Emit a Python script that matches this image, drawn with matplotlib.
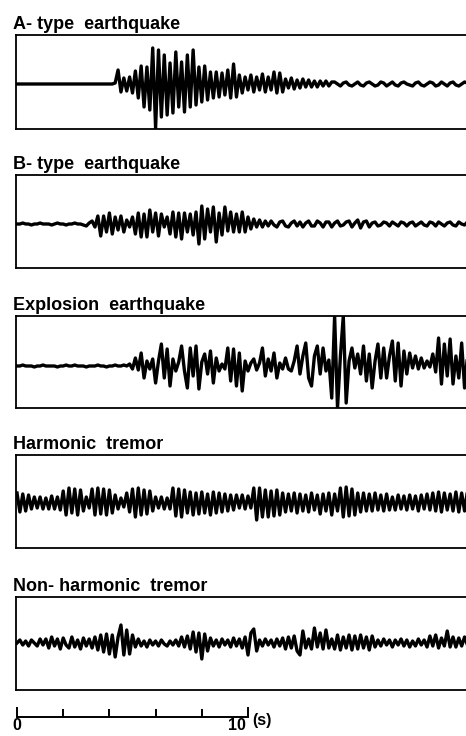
import numpy as np
import matplotlib
matplotlib.use("Agg")
import matplotlib.pyplot as plt

# seismogram samples, one every dt seconds (amplitude in arbitrary units, up = +)
dt = 0.125

titles = ["A- type  earthquake", "B- type  earthquake", "Explosion  earthquake",
          "Harmonic  tremor", "Non- harmonic  tremor"]

a_type = [0, 0, 0, 0, 0, 0, 0, 0, 0, 0, 0, 0, 0, 0, 0, 0, 0, 0, 0, 0,
          0, 0, 0, 0, 0, 0, 0, 0, 0, 0, 0, 0, 0, 0,
          1, 14, -8, 6, -7, 7, -9, 13, -14, 18, -23, 17, -26, 36, -44, 34, -33, 29, -31, 21,
          -29, 32, -23, 22, -28, 29, -23, 34, -21, 17, -18, 18, -16, 12, -14, 12, -13, 11, -11, 14,
          -14, 20, -13, 9, -9, 7, -6, 9, -8, 7, -6, 10, -8, 7, -6, 12, -9, 11, -8, 5,
          -4, 6, -5, 4, -4, 5, -3, 4, -3, 3, -3, 3, -2, 3, -2, 2,
          2, 0, -2, 1, 2, -1, -2, 0, 2, -1, -2, 1, 2, 0, -2, -1, 2, 1, -2, 0,
          2, -1, -2, 1, 2, 0, -1, -2, 1, 2, -1, -2, 0, 2, 1, -2, -1, 2, 0, -2,
          1, 2, -1, -2, 0, 2, 1]

b_type = [0, 0, 1, 0, 0, -1, 0, 0, 1, 0, 0, 0, -1, 0, 1, 0, 0, -1, 0, 0,
          1, 0, 0, -1, -2, 1,
          3, -3, 8, -12, 8, -8, 11, -10, 7, -6, 8, -8, 4, -3, 7, -10, 11, -13, 10, -13,
          14, -8, 11, -12, 10, -3, 7, -10, 12, -13, 11, -15, 11, -8, 10, -11, 12, -20, 18, -15,
          15, -8, 17, -18, 11, -11, 17, -7, 12, -8, 10, -8, 12, -8, 7, -5, 5, -3, 4, -3,
          3, -2,
          3, -1, -3, 2, 3, -2, -3, 1, 3, -2, 2, -3, 1, 3, -2, -2, 3, 1, -3, 2,
          2, -3, 1, 3, -2, -1, 2, 3, -3, 1, 4, -4, 2, 3, -3, 1, 2, -2, -1, 2,
          1, -2, 2, 0, -2, 2, 1, -2, 1, 2, -2, 0, 2, -1, -2, 2, 1, -2, 2, 0,
          -2, 1, 2, -1, -2, 2, 0, -1, 2]

explosion = [0, 0, 1, 0, 0, 0, -1, 0, 0, 1, 0, 0, 0, 0, -1, 0, 0, 1, 0, 0,
             1, 0, 0, 0, -1, 0, 0, 0, 1, 0, 0, -1, 0, 0, 1, 0, 0, 1, 0,
             2, -3, 8, -4, 13, -12, 5, -3, 7, -17, 5, 22, -12, 17, -20, 7, -5, 4, 20, -5,
             -22, 18, -10, 20, -23, 4, 12, -8, 15, -17, 8, -5, 2, -3, 18, -15, 17, -20, 13, -25,
             5, -5, 3, 7, -4, 3, 18, -10, 7, -5, 13, -12, 3, -3, 8, -3, -5, 5, 20, -8,
             10, 23, -12, -20, 10, 20, -8, 18, -5, 6, -32, 50, -42, 10, 50, -37, 5, 18, -2, 12,
             -8, 20, -15, 12, -22, 5, 22, -12, 18, -12, 10, 25, -15, 23, -20, 15, -8, 13, -2, 10,
             -3, 8, -2, 5, -1, 12, -6, 28, -18, 22, -10, 27, -18, 10, -12, 23, -22, 10]

harmonic = [10, -9, 9, -8, 8, -6, 6, -5, 6, -6, 5, -6, 7, -6, 6, -7,
            12, -12, 15, -10, 14, -12, 13, -8, 6, -5, 14, -12, 15, -11, 14, -12, 13, -10, 8, -6,
            5, -4, 10, -9, 14, -14, 15, -12, 13, -11, 12, -8, 6, -5, 6, -6, 5, -6, 15, -13,
            14, -14, 13, -10, 11, -12, 10, -11, 11, -10, 9, -12, 11, -10, 10, -9, 9, -8, 8, -7,
            8, -5, 8, -6, 7, -5, 15, -17, 15, -14, 13, -14, 12, -13, 13, -12, 10, -9, 9, -8,
            10, -10, 9, -8, 8, -9, 10, -7, 8, -11, 9, -8, 10, -12, 9, -8, 15, -14, 16, -13,
            14, -12, 10, -9, 10, -8, 9, -8, 10, -7, 8, -8, 9, -7, 6, -7, 8, -6, 7, -7,
            8, -6, 7, -8, 8, -6, 9, -7, 10, -8, 11, -9, 10, -7, 9, -8, 11, -9, 10, -8, 12]

non_harmonic = [0, 3, -2, 2, -3, 3, 0, -3, 4, -2, 4, -5, 6, -3, 4, -6, 5, -2, -5, 6,
                -4, 3, -6, 5, -3, 4, -5, 6, -7, 8, -9, 9, -11, 8, -14, 6, 18, -12, 13, -11,
                8, -4, 4, -3, 2, -4, 3, -2, 2, -3, 3, -1, -3, 2, -2, 3, -3, 6, -4, 7,
                -6, 11, -9, 10, -16, 9, -8, 5, -3, 3, -4, 4, -2, 3, -4, 5, -3, 4, -5, 6,
                -12, 10, 14, -8, 3, -3, 4, -2, 3, -4, 4, -3, 5, -6, 6, -5, 7, -8, -12, 12,
                -5, 4, -6, 15, -4, 10, -6, 13, -5, 4, -6, 8, -7, 6, -5, 8, -7, 7, -6, 8,
                -5, 6, -7, 7, -4, 3, -3, 4, -2, 3, -4, 3, -2, 4, -3, 3, -4, 2, -3, 4,
                -2, 3, -4, 7, -3, 8, -5, 5, -3, 12, -4, 6, -4, 5, -3, 6, -2]

traces = [a_type, b_type, explosion, harmonic, non_harmonic]

scale_ticks = [0, 2, 4, 6, 8, 10]

plt.rcParams['font.family'] = ['Liberation Sans', 'DejaVu Sans']

W, H = 466, 736
fig = plt.figure(figsize=(W / 100, H / 100), dpi=100)

px_per_s = 23.1
x0, x1 = 16, 478          # panel runs off the right edge like the scan
t_left = (x0 - 17) / px_per_s
t_right = (x1 - 17) / px_per_s

# (top, bottom, baseline) of each box in pixels
boxes = [(35, 129, 84), (175, 268, 224), (316, 408, 366), (455, 548, 503), (597, 690, 643)]

for title, v, (top, bot, base) in zip(titles, traces, boxes):
    ax = fig.add_axes([x0 / W, 1 - bot / H, (x1 - x0) / W, (bot - top) / H])
    t = np.arange(len(v)) * dt
    ax.plot(t, v, color='black', lw=2.4, solid_joinstyle='round')
    ax.set_xlim(t_left, t_right)
    ax.set_ylim(-(bot - base), base - top)
    ax.set_xticks([])
    ax.set_yticks([])
    for s in ax.spines.values():
        s.set_linewidth(1.3)
    ax.text(-3 / (x1 - x0), 1 + 6 / (bot - top), title, transform=ax.transAxes,
            ha='left', va='baseline', fontsize=13, fontweight='bold')

# time scale bar, y in pixel units
sax = fig.add_axes([x0 / W, 0, (x1 - x0) / W, 36 / H])
sax.set_xlim(t_left, t_right)
sax.set_ylim(736, 700)
sax.axis('off')
sax.plot([scale_ticks[0], scale_ticks[-1]], [717, 717], color='black', lw=1.4)
sax.vlines(scale_ticks[1:-1], 709, 717, color='black', lw=1.4)
sax.vlines([scale_ticks[0], scale_ticks[-1]], 707, 717, color='black', lw=1.4)
sax.text(scale_ticks[0], 717.5, "0", ha='center', va='top', fontsize=11.5, fontweight='bold')
sax.text(scale_ticks[-1] - 0.08, 717.5, "10", ha='right', va='top', fontsize=11.5, fontweight='bold')
sax.text(scale_ticks[-1] + 0.2, 721, "(s)", ha='left', va='center', fontsize=11.5, fontweight='bold')

fig.savefig("out.png", dpi=100)
